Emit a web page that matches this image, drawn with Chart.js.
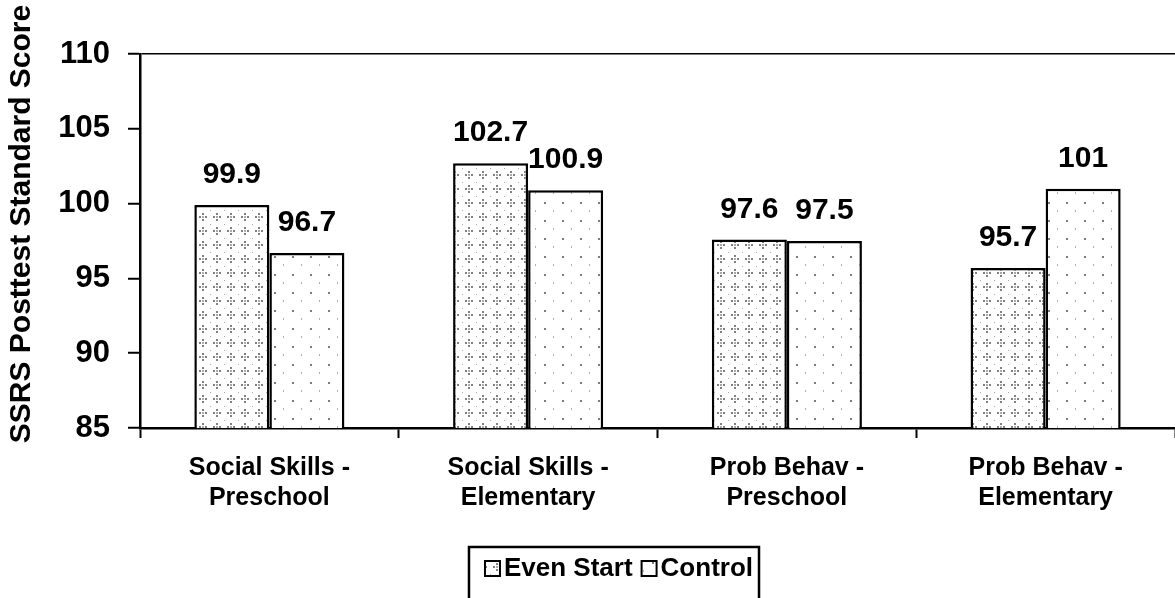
<!DOCTYPE html>
<html>
<head>
<meta charset="utf-8">
<script src="https://cdn.jsdelivr.net/npm/chart.js@4"></script>
<style>
  body{margin:0;background:#fff;}
  #wrap{width:1175px;height:598px;}
</style>
</head>
<body>
<div id="wrap"><canvas id="c" width="1175" height="598"></canvas></div>
<script>
/* ========= DATA ========= */
const categories = [
  ['Social Skills -', 'Preschool'],
  ['Social Skills -', 'Elementary'],
  ['Prob Behav -', 'Preschool'],
  ['Prob Behav -', 'Elementary']
];
const evenStart = [99.9, 102.7, 97.6, 95.7];
const control   = [96.7, 100.9, 97.5, 101];
const seriesNames = ['Even Start', 'Control'];
const yTicks = [85, 90, 95, 100, 105, 110];
const yTitle = 'SSRS Posttest Standard Score';

const FONT = '"Liberation Sans", Arial, sans-serif';

/* ========= PATTERNS ========= */
function stipple(size, draw){
  const cv = document.createElement('canvas');
  cv.width = size; cv.height = size;
  const g = cv.getContext('2d');
  g.fillStyle = '#fff'; g.fillRect(0,0,size,size);
  draw(g);
  return document.getElementById('c').getContext('2d').createPattern(cv,'repeat');
}
const evenPat = stipple(14, g=>{
  g.fillStyle = '#808080';
  [[7,4],[4,7],[10,7],[7,10]].forEach(([x,y])=>g.fillRect(x-1,y-1,2,2));
  g.fillStyle = '#aaaaaa';
  g.fillRect(6,6,2,2); g.fillRect(0,0,1,1);
});
const ctrlPat = stipple(18, g=>{
  g.fillStyle = '#7a7a7a'; g.fillRect(4,4,2,2);
  g.fillStyle = '#b0b0b0'; g.fillRect(13,12,1,2);
});

/* ========= PLUGINS ========= */
const valueLabels = {
  id:'valueLabels',
  afterDatasetsDraw(chart){
    const ctx = chart.ctx;
    ctx.save();
    ctx.fillStyle = '#000';
    ctx.font = 'bold 30px ' + FONT;
    ctx.textAlign = 'center';
    ctx.textBaseline = 'alphabetic';
    chart.data.datasets.forEach((ds, i)=>{
      chart.getDatasetMeta(i).data.forEach((bar, j)=>{
        ctx.fillText(String(ds.data[j]), bar.x, bar.y - 22);
      });
    });
    ctx.restore();
  }
};
const yTitlePlugin = {
  id:'yTitlePlugin',
  afterDraw(chart){
    const ctx = chart.ctx;
    ctx.save();
    ctx.translate(22, 224);
    ctx.rotate(-Math.PI/2);
    ctx.font = 'bold 30px ' + FONT;
    ctx.fillStyle = '#000';
    ctx.textAlign = 'center';
    ctx.textBaseline = 'middle';
    ctx.fillText(yTitle, 0, 0);
    ctx.restore();
  }
};
// boxed legend under the axis, built from the datasets
const boxLegend = {
  id:'boxLegend',
  afterDraw(chart){
    const ctx = chart.ctx;
    const ds = chart.data.datasets;
    ctx.save();
    ctx.font = 'bold 26px ' + FONT;
    ctx.textBaseline = 'middle';
    const sw = 15, gap = 4, between = 9, padL = 16, padR = 6;
    let total = 0;
    ds.forEach((d,i)=>{ total += sw + gap + ctx.measureText(d.label).width + (i ? between : 0); });
    const cx = 614, cy = 568;
    let x = cx - total/2 + (padL - padR)/2;
    const left = x - padL, right = x + total + padR, top = 547;
    ds.forEach((d,i)=>{
      if(i) x += between;
      ctx.fillStyle = d.backgroundColor; ctx.fillRect(x, cy-7, sw, sw);
      ctx.strokeStyle = '#000'; ctx.lineWidth = 2; ctx.strokeRect(x, cy-7, sw, sw);
      x += sw + gap;
      ctx.fillStyle = '#000'; ctx.fillText(d.label, x, cy + 1);
      x += ctx.measureText(d.label).width;
    });
    ctx.strokeStyle = '#000'; ctx.lineWidth = 2.5;
    ctx.strokeRect(left, top, right - left, chart.height - top + 10);
    ctx.restore();
  }
};

/* ========= CHART ========= */
new Chart(document.getElementById('c'), {
  type:'bar',
  data:{
    labels: categories,
    datasets:[
      {label: seriesNames[0], data: evenStart, backgroundColor: evenPat,
       borderColor:'#000', borderWidth:2.5, borderSkipped:false},
      {label: seriesNames[1], data: control, backgroundColor: ctrlPat,
       borderColor:'#000', borderWidth:2.5, borderSkipped:false}
    ]
  },
  options:{
    responsive:false,
    animation:false,
    datasets:{bar:{categoryPercentage:0.58, barPercentage:1.0}},
    layout:{padding:{top:54, left:0, right:0, bottom:58}},
    plugins:{
      legend:{display:false},
      tooltip:{enabled:false}
    },
    scales:{
      x:{
        grid:{display:true, drawOnChartArea:false, offset:true,
              tickLength:10, tickColor:'#000', tickWidth:2},
        border:{color:'#000', width:2.5},
        ticks:{font:{family:FONT, size:25, weight:'bold'}, color:'#000',
               padding:15, maxRotation:0, autoSkip:false},
        afterFit: s => { s.height = 112; }
      },
      y:{
        min:85, max:110,
        afterBuildTicks: s => { s.ticks = yTicks.map(v=>({value:v})); },
        grid:{color: c => c.tick && c.tick.value === 110 ? '#000' : 'rgba(0,0,0,0)',
              lineWidth:1.5, tickLength:12, tickColor:'#000', tickWidth:2},
        border:{color:'#000', width:2.5},
        ticks:{font:{family:FONT, size:31, weight:'bold'}, color:'#000', padding:18},
        afterFit: s => { s.width = 140; }
      }
    }
  },
  plugins:[valueLabels, yTitlePlugin, boxLegend]
});
</script>
</body>
</html>
